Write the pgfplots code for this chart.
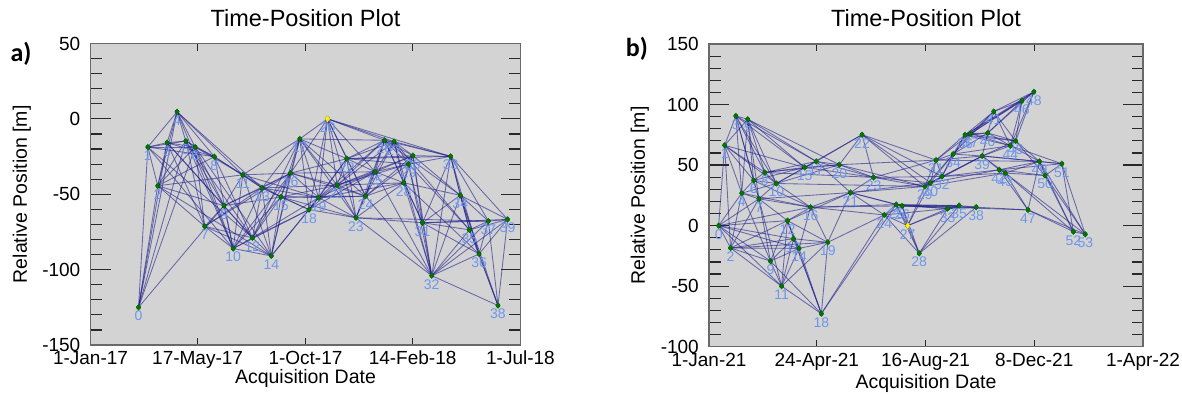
\documentclass[border=0pt]{standalone}
\usepackage{fontspec}
\setmainfont{Liberation Sans}
\newfontfamily\carl{Carlito}
\usepackage{pgfplots}
\usepackage{pgfplotstable}
\pgfplotsset{compat=1.18}

\definecolor{bgc}{RGB}{211,211,211}
\definecolor{axc}{RGB}{105,105,105}
\definecolor{tkc}{RGB}{40,40,40}
\definecolor{edgec}{RGB}{30,30,140}
\definecolor{labc}{RGB}{110,150,235}
\definecolor{nodec}{RGB}{0,120,0}

\pgfplotstableread{
n x y
0 61 -125
1 72.8 -18.7
2 85.4 -44.4
3 97.2 -15.8
4 109.9 4.7
5 121 -14.7
6 132.9 -18.7
7 145 -71.3
8 157.3 -25.1
9 169.5 -57.6
10 181.2 -86
11 193.4 -37.1
12 205.6 -78.9
13 217.8 -45.8
14 229.6 -90.9
15 241.8 -51.8
16 254 -36
17 265.7 -13.3
18 277.5 -60.2
19 289.7 -52.2
20 301 0
21 313.2 -44
22 325.4 -26.4
23 337.1 -65.6
24 349.3 -51.3
25 361.5 -35.1
26 373.3 -14.2
27 385.5 -15.1
28 397.7 -42.4
29 403.8 -30
30 409.4 -24.4
31 421.6 -68.9
32 433.3 -104
33 457.3 -24.9
34 469.5 -50.7
35 481.2 -73.6
36 493.4 -89.6
37 505.2 -67.8
38 517.4 -123.8
39 529.6 -66.7
}\tabA

\pgfplotstableread{
n x y
0 10.1 0
1 16.4 66.3
2 22.6 -18.5
3 28.1 90.6
4 34.3 26.8
5 40.6 87.8
6 46.8 37.3
7 52.3 22.1
8 58.5 43.9
9 64.4 -29.3
10 70.6 34.8
11 76.1 -50
12 82.3 4.1
13 88.6 -10.8
14 94.4 -18.8
15 100.3 48.1
16 106.5 15.2
17 112.4 53
18 117.8 -72.7
19 124.5 -13.8
20 136.6 50.3
21 148.3 27.3
22 160.4 75.1
23 172.5 39.8
24 183.8 8.8
25 196.3 17.4
26 202.5 16.3
27 208.3 0
28 220.4 -22.9
29 226.3 32.3
30 232.2 35.4
31 238 54.1
32 244.2 40.6
33 250.1 14.1
34 256 59.1
35 262.2 16.6
36 268.4 74.9
37 274.3 76
38 280.1 15.2
39 286.4 57.5
40 292.2 76.5
41 298.5 94.2
42 304.3 46.1
43 310.6 43.4
44 316 66
45 321.5 69.9
46 328.1 103
47 334.4 13
48 340.6 110.5
49 346.5 53
50 352.3 41.4
51 369.9 51.1
52 382 -5
53 394.5 -7.2
}\tabB

\newcommand\edgesA{0/1,0/2,0/3,0/4,0/5,0/6,0/9,
1/2,1/3,1/4,1/5,1/6,1/8,1/10,1/12,
2/3,2/4,2/5,2/6,2/8,2/9,2/11,2/7,2/14,
3/4,3/5,3/6,3/7,3/8,3/9,3/12,
4/5,4/6,4/8,4/10,4/11,4/13,
5/6,5/7,5/8,5/9,5/10,5/12,
6/8,6/9,6/7,6/10,6/14,6/11,
7/9,7/10,7/12,7/14,7/13,7/16,
8/11,8/13,8/10,8/12,
9/10,9/11,9/12,9/15,9/13,9/16,
10/12,10/13,10/14,10/15,10/16,10/18,10/11,
11/13,11/15,11/17,11/16,11/14,11/19,
12/14,12/13,12/15,12/16,12/17,12/18,12/19,
13/14,13/15,13/16,13/17,13/18,13/19,13/21,
14/15,14/16,14/18,14/19,14/17,
15/16,15/17,15/18,15/19,15/21,15/23,15/24,
16/17,16/19,16/20,16/21,16/22,16/24,16/25,
17/18,17/19,17/20,17/21,17/22,17/23,17/24,17/26,
18/19,18/20,18/21,18/22,18/23,18/25,
19/20,19/21,19/22,19/23,19/24,19/25,19/26,19/28,
20/21,20/22,20/23,20/24,20/25,20/26,20/27,20/33,
21/22,21/23,21/24,21/25,21/26,21/27,21/28,21/29,21/30,
22/23,22/24,22/25,22/26,22/27,22/29,22/30,22/33,
23/24,23/25,23/26,23/28,23/31,23/37,23/32,
24/25,24/26,24/27,24/28,24/29,24/30,24/32,
25/26,25/27,25/28,25/29,25/30,25/32,
26/27,26/28,26/29,26/30,26/31,26/33,26/34,
27/28,27/29,27/30,27/33,27/35,27/32,
28/29,28/30,28/31,28/32,28/34,28/36,
29/30,29/31,29/32,29/33,29/35,
30/31,30/33,30/32,30/34,
31/32,31/33,31/34,31/35,31/36,31/37,31/39,
32/33,32/34,32/35,32/36,32/37,32/38,32/39,
33/34,33/35,33/36,33/37,33/39,
34/35,34/36,34/37,34/38,34/39,
35/36,35/37,35/38,35/39,
36/37,36/38,36/39,
37/38,37/39,
38/39}

\newcommand\edgesB{0/1,0/2,0/4,0/7,0/9,0/11,0/12,0/13,0/14,0/16,
1/2,1/3,1/4,1/5,1/6,1/8,1/10,1/15,
2/4,2/7,2/9,2/11,2/12,2/13,2/14,2/19,
3/4,3/5,3/6,3/7,3/8,3/10,3/15,3/17,
4/5,4/6,4/7,4/9,4/10,4/16,
5/6,5/7,5/8,5/10,5/15,5/17,5/20,
6/7,6/8,6/10,6/15,6/16,
7/9,7/10,7/11,7/12,7/16,7/21,
8/10,8/15,8/17,8/20,8/23,
9/11,9/12,9/13,9/14,9/18,
10/15,10/17,10/20,10/29,10/16,
11/12,11/13,11/14,11/18,11/19,
12/13,12/14,12/16,12/18,12/19,12/21,
13/14,13/18,13/19,
14/18,14/19,14/16,
15/17,15/20,15/22,15/23,
16/21,16/24,16/25,16/26,16/19,
17/20,17/22,17/23,17/21,
18/19,18/24,18/25,
19/21,19/24,
20/22,20/23,20/29,20/31,
21/23,21/24,21/25,21/26,21/29,21/30,
22/23,22/29,22/30,22/31,22/32,
23/29,23/30,23/31,23/32,
24/25,24/26,24/27,24/28,24/33,
25/26,25/27,25/28,25/33,25/35,25/38,
26/27,26/28,26/33,26/35,26/38,26/47,
27/28,27/33,27/35,27/29,27/30,
28/33,28/35,28/38,
29/30,29/31,29/32,29/34,29/39,29/43,
30/31,30/32,30/34,30/42,30/39,
31/32,31/34,31/36,31/37,31/39,31/49,
32/34,32/39,32/42,32/43,32/36,
33/35,33/38,
34/36,34/37,34/39,34/40,34/44,34/41,
35/38,
36/37,36/40,36/41,36/44,36/45,36/46,36/48,
37/40,37/41,37/44,37/45,37/46,37/48,
38/47,
39/40,39/42,39/43,39/44,39/49,39/51,39/45,
40/41,40/44,40/45,40/46,40/48,
41/44,41/45,41/46,41/48,
42/43,42/49,42/50,42/51,42/47,
43/47,43/49,43/50,43/52,43/53,
44/45,44/46,44/48,44/49,44/51,
45/46,45/48,45/49,45/50,
46/48,
47/49,47/52,47/53,
49/50,49/51,49/52,49/53,
50/51,50/52,50/53,
51/52,51/53,
52/53}

\pgfplotsset{
  tp/.style={
    scale only axis,
    axis background/.style={fill=bgc},
    axis line style={draw=axc, line width=1.3pt},
    tick style={draw=tkc, line width=1.2pt},
    major tick length=20pt,
    minor tick length=11.5pt,
    xtick style={/pgfplots/major tick length=7pt,/pgfplots/minor tick length=7pt},
    minor x tick num=4,
    minor y tick num=4,
    tick align=inside,
    ticklabel style={font=\fontsize{19}{22}\selectfont, text=black},
    xticklabel style={anchor=base, inner sep=0pt, yshift=-19.5pt},
    yticklabel style={anchor=east, inner sep=0pt, xshift=-10pt},
    label style={font=\fontsize{19.5}{23}\selectfont},
    title style={font=\fontsize{23.5}{27}\selectfont, anchor=base, inner sep=0pt},
    xlabel style={anchor=base, inner sep=0pt},
    ylabel style={anchor=base, inner sep=0pt},
    title={Time-Position Plot},
    xlabel={Acquisition Date},
    ylabel={Relative Position [m]},
  },
  edge/.style={forget plot, no markers, draw=edgec, draw opacity=0.6, line width=0.85pt},
  labs/.style={forget plot, only marks, mark=*, mark options={draw=none, fill=none},
    nodes near coords, point meta=explicit symbolic,
    every node near coord/.append style={font=\fontsize{14}{16}\selectfont, text=labc, anchor=north, inner sep=0pt, yshift=-3.5pt}},
  pts/.style={forget plot, only marks, mark=diamond*, mark size=2.9pt, mark options={draw=nodec, fill=nodec}},
  refpt/.style={forget plot, only marks, mark=diamond*, mark size=2.9pt, mark options={draw=yellow, fill=yellow}},
}

\begin{document}
\begin{tikzpicture}
\useasboundingbox (0,0) rectangle (1182pt,394pt);

\begin{axis}[tp, at={(90.5pt,49pt)}, anchor=south west, width=430pt, height=301.5pt,
  xmin=0, xmax=546, ymin=-150, ymax=50,
  xtick={0,136,273,409,546},
  xticklabels={1-Jan-17,17-May-17,1-Oct-17,14-Feb-18,1-Jul-18},
  ytick={-150,-100,-50,0,50},
  yticklabels={-150,-100,-50,0,50},
  title style={at={(axis description cs:0.5,1.0381)}},
  xlabel style={at={(axis description cs:0.5,-0.1277)}},
  ylabel style={at={(axis description cs:-0.1477,0.5)}},
]
\addplot[labs] table[x=x, y=y, meta=n]{\tabA};
\foreach \i/\j in \edgesA {
  \pgfplotstablegetelem{\i}{x}\of\tabA \let\xa\pgfplotsretval
  \pgfplotstablegetelem{\i}{y}\of\tabA \let\ya\pgfplotsretval
  \pgfplotstablegetelem{\j}{x}\of\tabA \let\xb\pgfplotsretval
  \pgfplotstablegetelem{\j}{y}\of\tabA \let\yb\pgfplotsretval
  \edef\tmp{\noexpand\addplot[edge] coordinates {(\xa,\ya) (\xb,\yb)};}
  \tmp
}
\addplot[pts] table[x=x, y=y]{\tabA};
\addplot[refpt] coordinates {(301,0)};
\end{axis}

\begin{axis}[tp, at={(709pt,47.3pt)}, anchor=south west, width=434pt, height=302.7pt,
  xmin=0, xmax=455, ymin=-100, ymax=150,
  xtick={0,113,227,341,455},
  xticklabels={1-Jan-21,24-Apr-21,16-Aug-21,8-Dec-21,1-Apr-22},
  ytick={-100,-50,0,50,100,150},
  yticklabels={-100,-50,0,50,100,150},
  title style={at={(axis description cs:0.5,1.0396)}},
  xlabel style={at={(axis description cs:0.5,-0.137)}},
  ylabel style={at={(axis description cs:-0.1475,0.5)}},
]
\addplot[labs] table[x=x, y=y, meta=n]{\tabB};
\foreach \i/\j in \edgesB {
  \pgfplotstablegetelem{\i}{x}\of\tabB \let\xa\pgfplotsretval
  \pgfplotstablegetelem{\i}{y}\of\tabB \let\ya\pgfplotsretval
  \pgfplotstablegetelem{\j}{x}\of\tabB \let\xb\pgfplotsretval
  \pgfplotstablegetelem{\j}{y}\of\tabB \let\yb\pgfplotsretval
  \edef\tmp{\noexpand\addplot[edge] coordinates {(\xa,\ya) (\xb,\yb)};}
  \tmp
}
\addplot[pts] table[x=x, y=y]{\tabB};
\addplot[refpt] coordinates {(208.3,0)};
\end{axis}

\node[anchor=base, inner sep=0pt, font=\fontsize{26}{30}\selectfont\carl\bfseries] at (21pt,332pt) {a)};
\node[anchor=base, inner sep=0pt, font=\fontsize{26}{30}\selectfont\carl\bfseries] at (637pt,337pt) {b)};
\end{tikzpicture}
\end{document}
